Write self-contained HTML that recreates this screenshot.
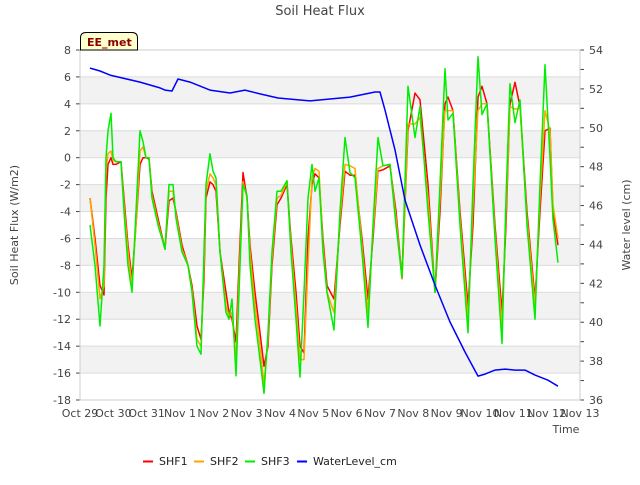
<!DOCTYPE html>
<html><head><meta charset="utf-8"><style>
body{margin:0;background:#fff}
svg text{font-family:"DejaVu Sans","Liberation Sans",sans-serif;font-size:11px;fill:#444}
</style></head><body>
<svg id="chart" width="640" height="480" viewBox="0 0 640 480">
<text x="320" y="15" text-anchor="middle" style="font-size:13px">Soil Heat Flux</text>
<g id="grid"></g>
<g id="series"></g>
<g id="axes"></g>
<text x="18" y="225" text-anchor="middle" transform="rotate(-90 18 225)">Soil Heat Flux (W/m2)</text>
<text x="630" y="225" text-anchor="middle" transform="rotate(-90 630 225)">Water level (cm)</text>
<text x="566" y="433" text-anchor="middle">Time</text>
<g>
<path d="M80.5,50 L80.5,38 Q80.5,32.5 86,32.5 L132,32.5 Q137.5,32.5 137.5,38 L137.5,50 Z" fill="#ffffcc" stroke="#000" stroke-width="1"/>
<text x="87" y="46" style="font-size:11px;font-weight:bold;fill:#8b0000">EE_met</text>
</g>
<g id="legend"></g>
</svg>
<script>
const days=[0.30,0.45,0.60,0.72,0.78,0.84,0.93,0.99,1.08,1.23,1.32,1.44,1.56,1.68,1.80,1.89,1.98,2.07,2.16,2.34,2.55,2.67,2.79,2.88,3.06,3.24,3.36,3.51,3.63,3.72,3.78,3.90,3.99,4.08,4.20,4.38,4.47,4.56,4.68,4.77,4.89,5.01,5.10,5.25,5.40,5.52,5.64,5.76,5.91,6.03,6.21,6.33,6.48,6.60,6.72,6.84,6.96,7.05,7.17,7.29,7.41,7.62,7.80,7.95,8.10,8.25,8.46,8.64,8.79,8.94,9.09,9.30,9.48,9.66,9.84,10.05,10.20,10.44,10.65,10.80,10.95,11.04,11.19,11.40,11.64,11.79,11.94,12.06,12.21,12.45,12.66,12.78,12.90,13.05,13.20,13.41,13.65,13.80,13.95,14.10,14.19,14.34];
const shf3=[-5,-8,-12.5,-8,0,2,3.3,0,-0.3,-0.3,-4,-8,-10,-4,2,1.2,0,0,-3,-5,-6.8,-2,-2,-4.5,-7,-8,-10,-14,-14.6,-7,-2,0.3,-1,-1.5,-7,-11.5,-12,-10.5,-16.2,-10,-2,-2.8,-8,-12,-15,-17.5,-13,-7,-2.5,-2.5,-1.7,-7,-12,-16.3,-10,-3,-0.5,-2.5,-1.5,-7,-10,-12.8,-4,1.5,-1.1,-1.5,-7,-12.6,-5,1.5,-0.6,-0.5,-5,-8.9,5.3,1.5,3.8,-4,-10,-2,6.6,2.8,3.3,-5,-13,-2,7.5,3.2,4,-6,-13.8,-3,5.5,2.6,4.3,-5,-12,-2,6.9,0,-4.6,-7.8];
const shf1=[-3,-6,-9.5,-10.2,-3,-0.5,0,-0.5,-0.5,-0.3,-3,-6.5,-9,-5,-0.5,0,0,-0.1,-2.5,-4.5,-6.8,-3.2,-3,-4,-6.5,-8,-9.5,-12.5,-13.5,-9,-3,-1.8,-2,-2.5,-7,-10,-11.5,-12,-13.7,-8,-1.1,-3,-6.5,-10,-13,-15.5,-14,-8,-3.5,-3,-2,-6,-10,-14,-14.5,-6,-2,-1.2,-1.5,-6,-9.5,-10.5,-5,-1,-1.3,-1.3,-6,-10.5,-6,-1,-0.9,-0.6,-4,-9,2,4.8,4.3,-2,-10,-4,4,4.5,3.5,-4,-11,-5,4.5,5.3,4,-5,-11.5,-5,4,5.6,3.8,-4,-10.5,-4,2,2.2,-4,-6.5];
const shf2=[-3,-6.5,-10.5,-9.5,-1,0.3,0.5,-0.2,-0.3,-0.3,-3.5,-7,-9.5,-5,0.5,0.8,0,0,-2.8,-4.8,-6.8,-2.5,-2.5,-4.2,-6.8,-8,-9.8,-13.5,-14,-8,-2.5,-1.2,-1.5,-2,-7,-11,-11.8,-11.5,-15,-9,-1.8,-3,-7,-11,-14,-16.8,-13.5,-7.5,-3,-2.8,-1.8,-6.5,-11,-15,-15,-8,-1.5,-0.8,-1,-6.5,-10,-11.5,-4.5,-0.5,-0.6,-0.8,-6.5,-11.5,-5.5,-0.8,-0.6,-0.5,-4.5,-9,2.5,2.5,3,-3,-10,-3,3.5,3.5,3.5,-4.5,-12,-3.5,3.5,4,4,-5.5,-12.5,-4,3.8,3.6,3.7,-4.5,-11,-3,3.5,2,-3.5,-6];
const wlDays=[0.30,0.60,0.90,1.80,2.10,2.40,2.55,2.76,2.94,3.30,3.90,4.50,4.95,5.40,5.94,6.60,6.90,7.50,8.10,8.85,9.00,9.15,9.45,9.75,10.20,10.65,11.10,11.55,11.94,12.15,12.45,12.75,13.05,13.35,13.65,14.04,14.34];
const wl=[53.07,52.92,52.71,52.35,52.2,52.05,51.94,51.89,52.51,52.35,51.94,51.79,51.94,51.74,51.53,51.43,51.38,51.48,51.58,51.84,51.84,50.91,48.86,46.28,43.97,41.91,40.01,38.47,37.23,37.33,37.54,37.59,37.54,37.54,37.28,37.02,36.71];
const xLabels=["Oct 29","Oct 30","Oct 31","Nov 1","Nov 2","Nov 3","Nov 4","Nov 5","Nov 6","Nov 7","Nov 8","Nov 9","Nov 10","Nov 11","Nov 12","Nov 13"];
const leftTicks=[-18,-16,-14,-12,-10,-8,-6,-4,-2,0,2,4,6,8];
const rightTicks=[36,38,40,42,44,46,48,50,52,54];

const L=80,R=580,T=50,B=400;
const x=d=>L+d*(R-L)/15;
const yL=v=>B-(v+18)*(B-T)/26;
const yR=v=>B-(v-36)*(B-T)/18;
const NS="http://www.w3.org/2000/svg";
function mk(tag,parent,attrs){const e=document.createElementNS(NS,tag);for(const k in attrs)e.setAttribute(k,attrs[k]);parent.appendChild(e);return e;}
const grid=document.getElementById('grid'),axes=document.getElementById('axes'),ser=document.getElementById('series'),leg=document.getElementById('legend');
for(let i=0;i<leftTicks.length-1;i++){
  const v=leftTicks[i];
  if(i%2===1){const r=mk('rect',grid,{x:L,y:yL(v+2),width:R-L,height:yL(v)-yL(v+2),fill:'#f2f2f2'});
  
  }
}
leftTicks.forEach(v=>{
  const g=mk('line',grid,{x1:L,x2:R,y1:yL(v),y2:yL(v),stroke:'#dcdcdc','stroke-width':1});
  
  
  const t=mk('text',axes,{x:L-9,y:yL(v)+4,'text-anchor':'end'});t.textContent=v;
  
  
  mk('line',axes,{x1:L-4,x2:L,y1:yL(v),y2:yL(v),stroke:'#444'});
});
rightTicks.forEach(v=>{
  const t=mk('text',axes,{x:R+9,y:yR(v)+4,'text-anchor':'start'});t.textContent=v;
  
  
  mk('line',axes,{x1:R,x2:R+4,y1:yR(v),y2:yR(v),stroke:'#444'});
  if(v<54)mk('line',axes,{x1:R,x2:R+4,y1:yR(v+1),y2:yR(v+1),stroke:'#444'});
});
xLabels.forEach((s,i)=>{
  const t=mk('text',axes,{x:x(i),y:417,'text-anchor':'middle'});t.textContent=s;
  
  
});
mk('rect',axes,{x:L,y:T,width:R-L,height:B-T,fill:'none',stroke:'#ccc'});
function line(ds,vs,fy,color,name){
  const p=mk('polyline',ser,{points:ds.map((d,i)=>x(d).toFixed(1)+','+fy(vs[i]).toFixed(1)).join(' '),fill:'none',stroke:color,'stroke-width':1.5,'stroke-linejoin':'round'});
  
  
}
line(days,shf1,yL,'#ff0000','shf1-line');
line(days,shf2,yL,'#ffa500','shf2-line');
line(days,shf3,yL,'#00ee00','shf3-line');
line(wlDays,wl,yR,'#0000ff','waterlevel-line');
const legItems=[["SHF1","#ff0000",143],["SHF2","#ffa500",194],["SHF3","#00ee00",245],["WaterLevel_cm","#0000ff",297]];
legItems.forEach(([n,c,lx])=>{
  const g=mk('g',leg,{});
  
  
  mk('line',g,{x1:lx,x2:lx+10,y1:461.5,y2:461.5,stroke:c,'stroke-width':2});
  const t=mk('text',g,{x:lx+16,y:465,style:'fill:#222'});t.textContent=n;
});
</script>
</body></html>
